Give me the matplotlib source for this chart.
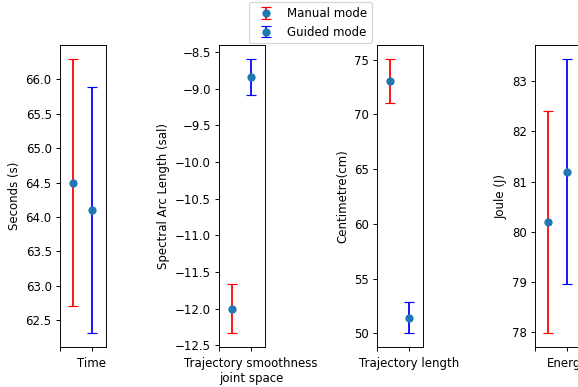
import numpy as np
import matplotlib
matplotlib.use("Agg")
import matplotlib.pyplot as plt

# metric names, axis labels, and mean / error per mode
metrics = ["Time", "Trajectory smoothness\njoint space", "Trajectory length", "Energy"]
ylabels = ["Seconds (s)", "Spectral Arc Length (sal)", "Centimetre(cm)", "Joule (J)"]
manual_mean = [64.5, -12.0, 73.05, 80.19]
manual_err = [1.8, 0.335, 2.03, 2.22]
guided_mean = [64.1, -8.84, 51.42, 81.2]
guided_err = [1.79, 0.245, 1.42, 2.25]

DPI = 85
fig = plt.figure(figsize=(578 / DPI, 387 / DPI), dpi=DPI)

lefts = [0.1038, 0.379, 0.652, 0.926]
for i in range(4):
    ax = fig.add_axes([lefts[i], 0.1034, 0.0796, 0.780])
    h1 = ax.errorbar(0.41, manual_mean[i], yerr=manual_err[i], fmt='o', color='C0',
                     ecolor='r', capsize=4.5)
    h2 = ax.errorbar(1.0, guided_mean[i], yerr=guided_err[i], fmt='o', color='C0',
                     ecolor='b', capsize=4.5)
    ax.set_xlim(0, 1.44)
    ax.set_xticks([0, 1])
    ax.set_xticklabels(['', metrics[i]])
    ax.tick_params(axis='x', pad=5)
    ax.set_ylabel(ylabels[i])

fig.legend([h1, h2], ['Manual mode', 'Guided mode'], loc='upper center',
           bbox_to_anchor=(0.537, 1.01))

fig.savefig("out.png", dpi=DPI)
